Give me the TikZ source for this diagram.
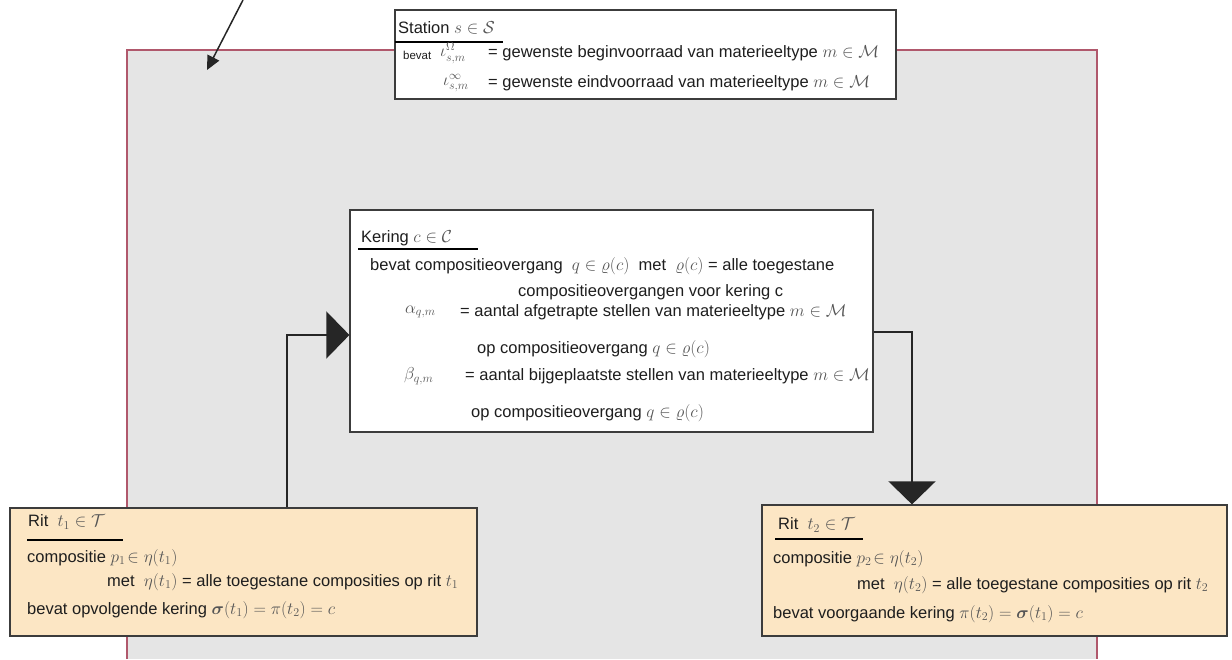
\documentclass[tikz,border=0pt]{standalone}
\usepackage{fontspec}
\setmainfont{Liberation Sans}
\usepackage{amsmath,amssymb}
\usetikzlibrary{arrows.meta}
\definecolor{framegray}{RGB}{229,229,229}
\definecolor{frameline}{RGB}{176,88,108}
\definecolor{ritfill}{RGB}{252,230,196}
\definecolor{boxline}{RGB}{60,60,60}
\definecolor{txtcol}{RGB}{30,30,30}
\definecolor{mathcol}{RGB}{85,85,85}
\everymath{\color{mathcol}}
\tikzset{
  box/.style={draw=boxline, line width=1.2pt, inner sep=0pt, fill=white},
  ritbox/.style={box, fill=ritfill},
  txt/.style={anchor=west, inner sep=0pt, text=txtcol, font=\fontsize{16.5}{19}\selectfont},
  ul/.style={draw=black, line width=2pt},
  conn/.style={draw=black!85, line width=1.2pt},
  bigtri/.style={-{Triangle[length=23pt,width=47pt]}},
}
\begin{document}
\begin{tikzpicture}[x=1pt,y=-1pt]
\useasboundingbox (0,0) rectangle (1232,659);
% frame
\fill[framegray] (127,50) rectangle (1097,659);
\draw[frameline, line width=1.5pt] (127,659) -- (127,50) -- (1097,50) -- (1097,659);

% boxes
\node[box, minimum width=501pt, minimum height=89pt] (station) at (645.5,54.5) {};
\node[box, minimum width=523pt, minimum height=222pt] (kering) at (611.5,321) {};
\node[ritbox, minimum width=467pt, minimum height=128pt] (rit1) at (243.5,572) {};
\node[ritbox, minimum width=465pt, minimum height=131pt] (rit2) at (994.5,570.5) {};

% connectors
\coordinate (j1) at (287,335);
\coordinate (j2) at (912,332);
\draw[conn, bigtri] (rit1.north -| j1) |- (kering.west |- j1);
\draw[conn, bigtri] (kering.east |- j2) -| (rit2.north -| j2);
\coordinate (a0) at (243,0);
\coordinate (a1) at (207,70);
\draw[conn, line width=1.5pt, -{Triangle[length=14pt,width=13pt]}] (a0) -- (a1);

% station texts
\node[txt] (st0) at (398,28) {Station $s\in\mathcal{S}$};
\draw[ul] (395,42) -- (503,42);
\node[txt, font=\fontsize{11.5}{13}\selectfont] (st1) at (403,55) {bevat};
\node[txt] (st2) at (440,53) {$\iota^{\Omega}_{s,m}$};
\node[txt] (st3) at (488,53) {= gewenste beginvoorraad van materieeltype $m\in\mathcal{M}$};
\node[txt] (st4) at (443,83) {$\iota^{\infty}_{s,m}$};
\node[txt] (st5) at (488,83) {= gewenste eindvoorraad van materieeltype $m\in\mathcal{M}$};

% kering texts
\node[txt] (k0) at (361,238) {Kering $c\in\mathcal{C}$};
\draw[ul] (358,249) -- (478,249);
\node[txt] (k1) at (370,266) {bevat compositieovergang \ $q\in\varrho(c)$ \ met \ $\varrho(c)$ = alle toegestane};
\node[txt] (k2) at (518,292) {compositieovergangen voor kering c};
\node[txt] (k3) at (405,312) {$\alpha_{q,m}$};
\node[txt] (k4) at (460,312) {= aantal afgetrapte stellen van materieeltype $m\in\mathcal{M}$};
\node[txt] (k5) at (477,349) {op compositieovergang $q\in\varrho(c)$};
\node[txt] (k6) at (404,376) {$\beta_{q,m}$};
\node[txt] (k7) at (465,376) {= aantal bijgeplaatste stellen van materieeltype $m\in\mathcal{M}$};
\node[txt] (k8) at (471,413) {op compositieovergang $q\in\varrho(c)$};

% rit1 texts
\node[txt] (r10) at (28,522) {Rit \ $t_1\in\mathcal{T}$};
\draw[ul] (27,540) -- (123,540);
\node[txt] (r11) at (27,558) {compositie $p_1\!\in\eta(t_1)$};
\node[txt] (r12) at (107,582) {met \ $\eta(t_1)$ = alle toegestane composities op rit $t_1$};
\node[txt] (r13) at (27,610) {bevat opvolgende kering $\boldsymbol{\sigma}(t_1) = \pi(t_2) = c$};

% rit2 texts
\node[txt] (r20) at (778,525) {Rit \ $t_2\in\mathcal{T}$};
\draw[ul] (775,539) -- (863,539);
\node[txt] (r21) at (773,559) {compositie $p_2\!\in\eta(t_2)$};
\node[txt] (r22) at (857,585) {met \ $\eta(t_2)$ = alle toegestane composities op rit $t_2$};
\node[txt] (r23) at (773,614) {bevat voorgaande kering $\pi(t_2) = \boldsymbol{\sigma}(t_1) = c$};
\end{tikzpicture}
\end{document}
